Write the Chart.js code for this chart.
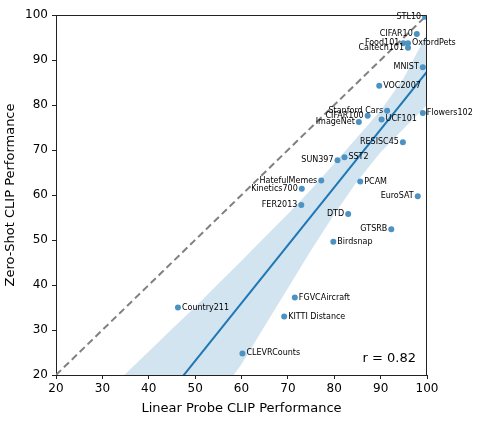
<!DOCTYPE html>
<html><head><meta charset="utf-8">
<script src="https://cdn.jsdelivr.net/npm/chart.js@4/dist/chart.umd.min.js"></script>
<style>html,body{margin:0;padding:0;background:#fff}</style>
</head><body>
<canvas id="c" width="480" height="442"></canvas>
<script>
// ---- data ----
const datasetNames = ["STL10","CIFAR10","Food101","OxfordPets","Caltech101","MNIST","VOC2007","Stanford Cars","CIFAR100","ImageNet","UCF101","Flowers102","RESISC45","SUN397","SST2","HatefulMemes","Kinetics700","PCAM","EuroSAT","FER2013","DTD","GTSRB","Birdsnap","FGVCAircraft","KITTI Distance","Country211","CLEVRCounts"];
const linearProbe = [99.6,97.8,94.9,95.9,95.9,99.1,89.7,91.4,87.2,85.3,90.2,99.1,94.8,80.7,82.2,77.2,73.0,85.6,98.0,72.9,83.0,92.3,79.8,71.5,69.2,46.3,60.2];
const zeroShot    = [99.6,95.8,93.7,93.7,92.7,88.4,84.3,78.7,77.6,76.2,76.8,78.2,71.7,67.7,68.4,63.2,61.4,63.0,59.7,57.8,55.8,52.4,49.6,37.2,33.0,35.0,24.8];
const labelSide   = ["L","L","L","R","L","L","R","L","L","L","R","R","L","L","R","L","L","R","L","L","L","L","R","R","R","R","R"];
const xTicks = [20,30,40,50,60,70,80,90,100];
const yTicks = [20,30,40,50,60,70,80,90,100];
// confidence band edges
const bandX     = [33,35,40,45,50,55,60,65,70,75,80,85,90,95,100];
const bandUpper = [18.5,20.3,25.2,30.2,35.1,40.3,45.4,50.6,55.8,61.2,67.0,72.9,78.8,86.0,95.9];
const bandLower = [-15,-13.7,-6.3,1.2,8.3,15.3,22.4,30.9,39.3,47.7,55.7,63.1,69.5,74.8,80.0];
const diagX = [20,100];
const diagY = [20,100];
const rText = "r = 0.82";
const xTitle = "Linear Probe CLIP Performance";
const yTitle = "Zero-Shot CLIP Performance";

// least-squares fit of the scatter (as in the original regression plot)
const n = linearProbe.length;
const mx = linearProbe.reduce((a,b)=>a+b,0)/n;
const my = zeroShot.reduce((a,b)=>a+b,0)/n;
let sxy=0, sxx=0;
for (let i=0;i<n;i++){ sxy+=(linearProbe[i]-mx)*(zeroShot[i]-my); sxx+=(linearProbe[i]-mx)**2; }
const slope = sxy/sxx, icpt = my - slope*mx;
const fitX = [xTicks[0], xTicks[xTicks.length-1]];

Chart.defaults.font.family = "'DejaVu Sans', sans-serif";
Chart.defaults.color = "#000";

const labelPlugin = {
  id:'labels',
  afterDatasetsDraw(chart){
    const ctx = chart.ctx;
    const meta = chart.getDatasetMeta(4);
    ctx.save();
    ctx.font = "8px 'DejaVu Sans'";
    ctx.fillStyle = "#000";
    ctx.textBaseline = "middle";
    meta.data.forEach((pt,i)=>{
      if (labelSide[i]==="L"){ ctx.textAlign="right"; ctx.fillText(datasetNames[i], pt.x-4, pt.y); }
      else { ctx.textAlign="left"; ctx.fillText(datasetNames[i], pt.x+4, pt.y); }
    });
    const a = chart.chartArea;
    ctx.font = "13px 'DejaVu Sans'";
    ctx.textAlign = "right";
    ctx.fillText(rText, a.right-11, a.bottom-16);
    // frame top & right spines
    ctx.strokeStyle = "#222"; ctx.lineWidth = 1;
    ctx.beginPath();
    ctx.moveTo(Math.round(a.left)+0.5, Math.round(a.top)+0.5);
    ctx.lineTo(Math.round(a.right)-0.5, Math.round(a.top)+0.5);
    ctx.lineTo(Math.round(a.right)-0.5, Math.round(a.bottom));
    ctx.stroke();
    ctx.restore();
  }
};

new Chart(document.getElementById('c'), {
  type:'scatter',
  data:{ datasets:[
    { type:'line', data: bandX.map((x,i)=>({x, y:bandUpper[i]})), borderWidth:0, pointRadius:0,
      backgroundColor:'rgba(31,119,180,0.2)', fill:'+1', order:5 },
    { type:'line', data: bandX.map((x,i)=>({x, y:bandLower[i]})), borderWidth:0, pointRadius:0,
      backgroundColor:'rgba(31,119,180,0.2)', fill:false, order:5 },
    { type:'line', data: fitX.map(x=>({x, y:icpt+slope*x})), borderColor:'#1f77b4', borderWidth:2,
      pointRadius:0, fill:false, order:3 },
    { type:'line', data: diagX.map((x,i)=>({x, y:diagY[i]})), borderColor:'#808080', borderWidth:2,
      borderDash:[7,4], pointRadius:0, fill:false, order:2 },
    { data: linearProbe.map((x,i)=>({x, y:zeroShot[i]})), backgroundColor:'#4c92c3', borderWidth:0,
      pointRadius:3, order:1 }
  ]},
  options:{
    responsive:false, animation:false,
    layout:{ padding:{ left:3, top:15, right:53, bottom:26 } },
    plugins:{ legend:{display:false}, tooltip:{enabled:false} },
    scales:{
      x:{ type:'linear', min:20, max:100,
        afterBuildTicks(s){ s.ticks = xTicks.map(v=>({value:v})); },
        ticks:{ font:{size:12}, color:'#000', padding:3 },
        grid:{ drawOnChartArea:false, tickLength:4, color:'#222' },
        border:{ color:'#222', width:1 },
        title:{ display:true, text:xTitle, font:{size:13}, color:'#000', padding:0 },
        afterFit(s){ s.height = 41; } },
      y:{ type:'linear', min:20, max:100,
        afterBuildTicks(s){ s.ticks = yTicks.map(v=>({value:v})); },
        ticks:{ font:{size:12}, color:'#000', padding:4 },
        grid:{ drawOnChartArea:false, tickLength:4, color:'#222' },
        border:{ color:'#222', width:1 },
        title:{ display:true, text:yTitle, font:{size:13}, color:'#000', padding:0 },
        afterFit(s){ s.width = 53; } }
    }
  },
  plugins:[labelPlugin]
});
</script>
</body></html>
